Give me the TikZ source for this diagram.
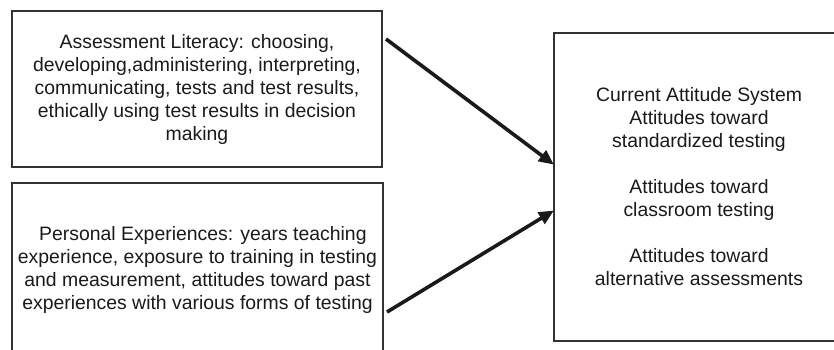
\documentclass[tikz,border=0pt]{standalone}
\usepackage{fontspec}
\setmainfont{Liberation Sans}
\usetikzlibrary{arrows.meta}
\definecolor{ink}{HTML}{1A1A1A}
\definecolor{edge}{HTML}{333333}
\begin{document}
\begin{tikzpicture}[x=1pt,y=1pt,
  boxstyle/.style={draw=edge, line width=1.8pt, rectangle, inner sep=0pt, align=center,
    font=\fontsize{19.4}{23}\selectfont, text=ink},
  arr/.style={draw=ink, line width=3.6pt, -{Triangle[length=15pt,width=13pt]}, shorten >=-1pt}]
\useasboundingbox (0,0) rectangle (834,-349);
\fill[white] (0,0) rectangle (834,-349);
\node[boxstyle, minimum width=370pt, minimum height=156pt] (lit) at (197,-89)
  {Assessment Literacy: choosing,\\ developing,administering, interpreting,\\ communicating, tests and test results,\\ ethically using test results in decision\\ making};
\node[boxstyle, minimum width=371pt, minimum height=174pt] (exp) at (197.5,-270)
  {\ \ Personal Experiences: years teaching\\ experience, exposure to training in testing\\ and measurement, attitudes toward past\\ experiences with various forms of testing};
\node[boxstyle, minimum width=290pt, minimum height=308pt] (att) at (699,-187)
  {Current Attitude System\\ Attitudes toward\\ standardized testing\\[23pt] Attitudes toward\\ classroom testing\\[23pt] Attitudes toward\\ alternative assessments};
\coordinate (s1) at (386,-39);
\coordinate (s2) at (387,-312);
\draw[arr] (s1) -- ([yshift=23pt]att.west);
\draw[arr] (s2) -- ([yshift=-24pt]att.west);
\end{tikzpicture}
\end{document}
